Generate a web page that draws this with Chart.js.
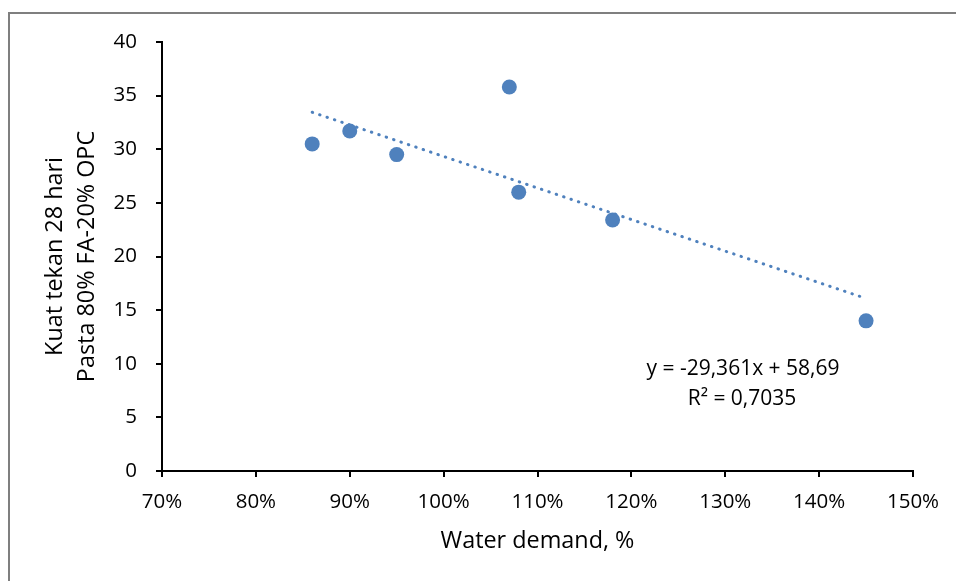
<!DOCTYPE html>
<html lang="id">
<head>
<meta charset="UTF-8">
<title>Kuat tekan vs water demand</title>
<script src="https://cdn.jsdelivr.net/npm/chart.js"></script>
<style>
  html, body { margin: 0; padding: 0; background: #fff; }
  canvas { display: block; }
</style>
</head>
<body>
<canvas id="chart" width="956" height="581"></canvas>
<script>
// data
const waterDemand = [86, 90, 95, 107, 108, 118, 145];      // %
const kuatTekan   = [30.5, 31.7, 29.5, 35.8, 26.0, 23.4, 14.0];
const xAxisRange  = [70, 150, 10];
const yAxisRange  = [0, 40, 5];
const xTitle = 'Water demand, %';
const yTitle = ['Kuat tekan 28 hari', 'Pasta 80% FA-20% OPC'];
const trendText = ['y = -29,361x + 58,69', 'R² = 0,7035'];

const blue = '#4f81bd';
const font = "'Open Sans', sans-serif";

// least squares trend line through the points
function linearFit(xs, ys) {
    const n = xs.length;
    const mx = xs.reduce((a, b) => a + b, 0) / n;
    const my = ys.reduce((a, b) => a + b, 0) / n;
    let sxy = 0, sxx = 0;
    for (let i = 0; i < n; i++) {
        sxy += (xs[i] - mx) * (ys[i] - my);
        sxx += (xs[i] - mx) * (xs[i] - mx);
    }
    const slope = sxy / sxx;
    return { slope: slope, intercept: my - slope * mx };
}
const fit = linearFit(waterDemand, kuatTekan);
const xLo = Math.min(...waterDemand), xHi = Math.max(...waterDemand);
const trendPoints = [xLo, xHi].map(x => ({ x: x, y: fit.intercept + fit.slope * x }));

const points = waterDemand.map((x, i) => ({ x: x, y: kuatTekan[i] }));

// outer frame and trend line label
const extras = {
    id: 'extras',
    afterDraw(chart) {
        const ctx = chart.ctx;
        const ca = chart.chartArea;
        ctx.save();
        ctx.strokeStyle = '#7f7f7f';
        ctx.lineWidth = 2;
        ctx.strokeRect(9, 13, 1200, 1200);
        ctx.fillStyle = '#000';
        ctx.font = '21px ' + font;
        ctx.textAlign = 'center';
        ctx.textBaseline = 'alphabetic';
        ctx.fillText(trendText[0], ca.left + 581, ca.top + 333);
        ctx.fillText(trendText[1], ca.left + 580, ca.top + 363);
        ctx.restore();
    }
};

new Chart(document.getElementById('chart'), {
    type: 'scatter',
    data: {
        datasets: [{
            label: 'Kuat tekan',
            data: points,
            backgroundColor: blue,
            borderColor: blue,
            pointRadius: 7.5,
            pointHoverRadius: 7.5,
            borderWidth: 0,
            order: 1
        }, {
            label: 'Linear',
            type: 'line',
            data: trendPoints,
            borderColor: blue,
            borderWidth: 3,
            borderDash: [0.5, 7.3],
            borderCapStyle: 'round',
            pointRadius: 0,
            fill: false,
            order: 2
        }]
    },
    options: {
        responsive: false,
        devicePixelRatio: 1,
        animation: false,
        layout: { padding: { left: 0, top: 42, right: 43, bottom: 0 } },
        plugins: {
            legend: { display: false },
            tooltip: { enabled: false }
        },
        scales: {
            x: {
                type: 'linear',
                min: xAxisRange[0],
                max: xAxisRange[1],
                afterFit(scale) { scale.height = 110; },
                border: { display: true, color: '#000', width: 2 },
                grid: { drawOnChartArea: false, drawTicks: true, tickLength: 6, color: '#000', lineWidth: 2 },
                ticks: {
                    stepSize: xAxisRange[2],
                    padding: 13,
                    color: '#000',
                    font: { family: font, size: 20.5 },
                    callback: v => v + '%'
                },
                title: {
                    display: true,
                    text: xTitle,
                    color: '#000',
                    font: { family: font, size: 23.4, lineHeight: 1.37 },
                    padding: { top: 0, bottom: 24 }
                }
            },
            y: {
                min: yAxisRange[0],
                max: yAxisRange[1],
                afterFit(scale) { scale.width = 162; },
                border: { display: true, color: '#000', width: 2 },
                grid: { drawOnChartArea: false, drawTicks: true, tickLength: 6, color: '#000', lineWidth: 2 },
                ticks: {
                    stepSize: yAxisRange[2],
                    padding: 19,
                    color: '#000',
                    font: { family: font, size: 20.5 }
                },
                title: {
                    display: true,
                    text: yTitle,
                    color: '#000',
                    font: { family: font, size: 23.4, lineHeight: 1.37 },
                    padding: { top: 39, bottom: 0 }
                }
            }
        }
    },
    plugins: [extras]
});
</script>
</body>
</html>
